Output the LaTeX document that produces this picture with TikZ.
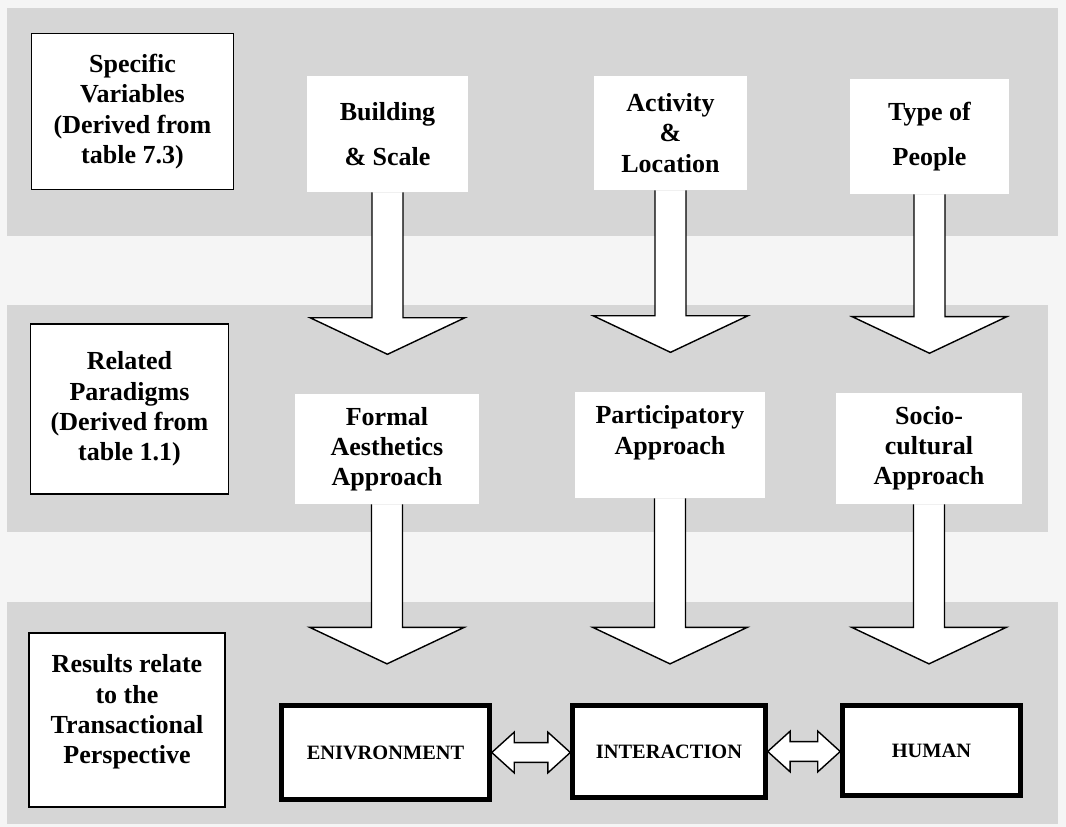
\documentclass[tikz,border=0pt]{standalone}
\usepackage{fontspec}
\setmainfont{Liberation Serif}
\usetikzlibrary{calc}
\tikzstyle{band}=[fill=gray!32,draw=none]
\tikzstyle{keybox}=[draw,line width=1pt,fill=white,align=center,inner sep=2pt,font=\bfseries\fontsize{18.5}{21.5}\selectfont]
\tikzstyle{varbox}=[fill=white,align=center,inner sep=2pt,font=\bfseries\fontsize{18.5}{21.5}\selectfont]
\tikzstyle{resbox}=[draw,line width=3.2pt,fill=white,align=center,font=\bfseries\fontsize{14.5}{17}\selectfont]
\tikzstyle{hollow}=[draw=black,fill=white,line width=1pt,line join=miter]

% fat downward arrow from one box towards the next
\newcommand{\hollowdown}[2]{%
  \draw[hollow] let \p1=(#1.south), \p2=(#2.north) in
    (\x1-11pt,\y1) -- (\x1-11pt,\y2+54pt) -- (\x1-55pt,\y2+54pt) --
    (\x1,\y2+28pt) -- (\x1+55pt,\y2+54pt) -- (\x1+11pt,\y2+54pt) --
    (\x1+11pt,\y1);}
% fat two-headed arrow between two boxes on one row
\newcommand{\hollowboth}[2]{%
  \draw[hollow] let \p1=(#1.east), \p2=(#2.west) in
    (\x1,\y1) -- (\x1+16pt,\y1+14.5pt) -- (\x1+16pt,\y1+7pt) --
    (\x2-16pt,\y1+7pt) -- (\x2-16pt,\y1+14.5pt) -- (\x2,\y1) --
    (\x2-16pt,\y1-14.5pt) -- (\x2-16pt,\y1-7pt) -- (\x1+16pt,\y1-7pt) --
    (\x1+16pt,\y1-14.5pt) -- cycle;}

\begin{document}
\begin{tikzpicture}[
    x=0.025cm,
    y=-0.025cm
    ]
    \fill[gray!8] (0,0) rectangle (1066,827);
    \useasboundingbox (0,0) rectangle (1066,827);
    % the three grey rows
    \path[band] (7,8) rectangle (1058,236);
    \path[band] (7,305) rectangle (1048,532);
    \path[band] (7,602) rectangle (1058,824);

    % row headings
    \node[keybox,minimum width=5.05cm,minimum height=3.9cm](spec) at (132.5,111.5){Specific\\Variables\\(Derived from\\table 7.3)};
    \node[keybox,minimum width=4.95cm,minimum height=4.25cm](para) at (129.5,409){Related\\Paradigms\\(Derived from\\table 1.1)};
    \node[keybox,minimum width=4.9cm,minimum height=4.35cm](res) at (127,720){Results relate\\to the\\Transactional\\Perspective\\[-6pt]\mbox{}};

    % variables
    \node[varbox,minimum width=4.03cm,minimum height=2.9cm](bld) at (387.5,134){Building\\[10pt]\& Scale};
    \node[varbox,minimum width=3.83cm,minimum height=2.85cm](act) at (670.5,133){Activity\\\&\\Location};
    \node[varbox,minimum width=3.98cm,minimum height=2.88cm](ppl) at (929.5,136.5){Type of\\[10pt]People};

    % paradigms
    \node[varbox,minimum width=4.6cm,minimum height=2.75cm](frm) at (387,449){Formal\\Aesthetics\\Approach};
    \node[varbox,minimum width=4.75cm,minimum height=2.65cm](prt) at (670,445){Participatory\\Approach\\\mbox{}};
    \node[varbox,minimum width=4.65cm,minimum height=2.78cm](soc) at (929,448.5){Socio-\\cultural\\Approach};

    % transactional results
    \node[resbox,minimum width=5.2cm,minimum height=2.35cm](env) at (385.5,752.5){ENIVRONMENT};
    \node[resbox,minimum width=4.82cm,minimum height=2.3cm](int) at (669,751.5){INTERACTION};
    \node[resbox,minimum width=4.45cm,minimum height=2.25cm](hum) at (931.5,750.5){HUMAN};

    \hollowdown{bld}{frm}
    \hollowdown{act}{prt}
    \hollowdown{ppl}{soc}
    \hollowdown{frm}{env}
    \hollowdown{prt}{int}
    \hollowdown{soc}{hum}
    \hollowboth{env}{int}
    \hollowboth{int}{hum}
\end{tikzpicture}
\end{document}
